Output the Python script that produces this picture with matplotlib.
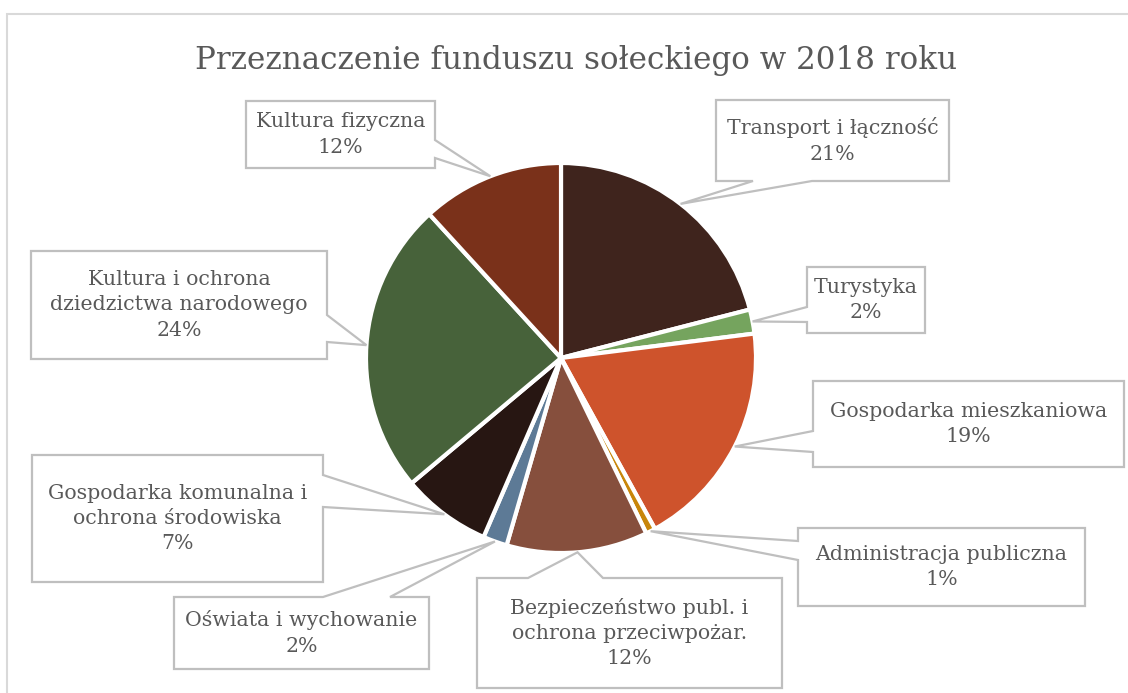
import matplotlib
matplotlib.use("Agg")
import matplotlib.pyplot as plt
from matplotlib.patches import Polygon
import numpy as np

# ---- data ----
title = "Przeznaczenie funduszu sołeckiego w 2018 roku"
categories = [
    "Transport i łączność",
    "Turystyka",
    "Gospodarka mieszkaniowa",
    "Administracja publiczna",
    "Bezpieczeństwo publ. i\nochrona przeciwpożar.",
    "Oświata i wychowanie",
    "Gospodarka komunalna i\nochrona środowiska",
    "Kultura i ochrona\ndziedzictwa narodowego",
    "Kultura fizyczna",
]
values = [21.0, 2.0, 19.0, 0.8, 11.7, 2.0, 7.4, 24.3, 11.8]
colors = ["#3F241D", "#75A45E", "#CE532C", "#C8860A", "#864F3D",
          "#5D7A96", "#271612", "#47623A", "#7A311A"]

# ---- layout (pixel units, y measured from top) ----
W, H = 1128, 693
# box: x0, ytop, x1, ybottom, side of pointer, base start, base end
boxes = [
    (716, 100, 949, 181, "bottom", 753, 812),
    (807, 267, 925, 333, "left", 307, 322),
    (813, 381, 1124, 467, "left", 431, 452),
    (798, 528, 1085, 606, "left", 541, 560),
    (477, 578, 782, 688, "top", 528, 603),
    (174, 597, 429, 669, "top", 323, 390),
    (32, 455, 323, 582, "right", 475, 507),
    (31, 251, 327, 359, "right", 315, 342),
    (246, 101, 435, 168, "right", 140, 158),
]
center_px = (561, 358)
radius = 195

font = "DejaVu Serif"
text_color = "#595959"
edge_color = "#BFBFBF"

fig = plt.figure(figsize=(W / 100, H / 100), dpi=100)
ax = fig.add_axes([0, 0, 1, 1])

cx, cy = center_px[0], H - center_px[1]
wedges, _ = ax.pie(values, colors=colors, startangle=90, counterclock=False,
                   center=(cx, cy), radius=radius,
                   wedgeprops=dict(edgecolor="white", linewidth=3))
ax.set_xlim(0, W)
ax.set_ylim(0, H)
ax.set_aspect("equal")
ax.axis("off")

# frame of chart area
ax.plot([7, 7, W + 5], [-5, H - 14, H - 14], color="#D9D9D9", lw=1.5,
        solid_joinstyle="miter")

ax.text(576, H - 60, title, ha="center", va="center", fontsize=22.3,
        family=font, color=text_color)

total = sum(values)
for w, lab, val, b in zip(wedges, categories, values, boxes):
    mid = np.deg2rad((w.theta1 + w.theta2) / 2)
    tip = (cx + radius * np.cos(mid), cy + radius * np.sin(mid))
    x0, yt, x1, yb, side, s, e = b
    yt_u, yb_u = H - yt, H - yb
    tl, tr, br, bl = (x0, yt_u), (x1, yt_u), (x1, yb_u), (x0, yb_u)
    if side == "bottom":
        pts = [tl, tr, br, (e, yb_u), tip, (s, yb_u), bl]
    elif side == "top":
        pts = [tl, (s, yt_u), tip, (e, yt_u), tr, br, bl]
    elif side == "left":
        pts = [tl, tr, br, bl, (x0, H - e), tip, (x0, H - s)]
    else:  # right
        pts = [tl, tr, (x1, H - s), tip, (x1, H - e), br, bl]
    ax.add_patch(Polygon(pts, closed=True, facecolor="white",
                         edgecolor=edge_color, lw=1.6, zorder=3))
    pct = f"{round(val / total * 100):d}%"
    ax.text((x0 + x1) / 2, (yt_u + yb_u) / 2, f"{lab}\n{pct}",
            ha="center", va="center", fontsize=14.8, family=font,
            color=text_color, linespacing=1.42, zorder=4)

fig.savefig("out.png", dpi=100, facecolor="white")
